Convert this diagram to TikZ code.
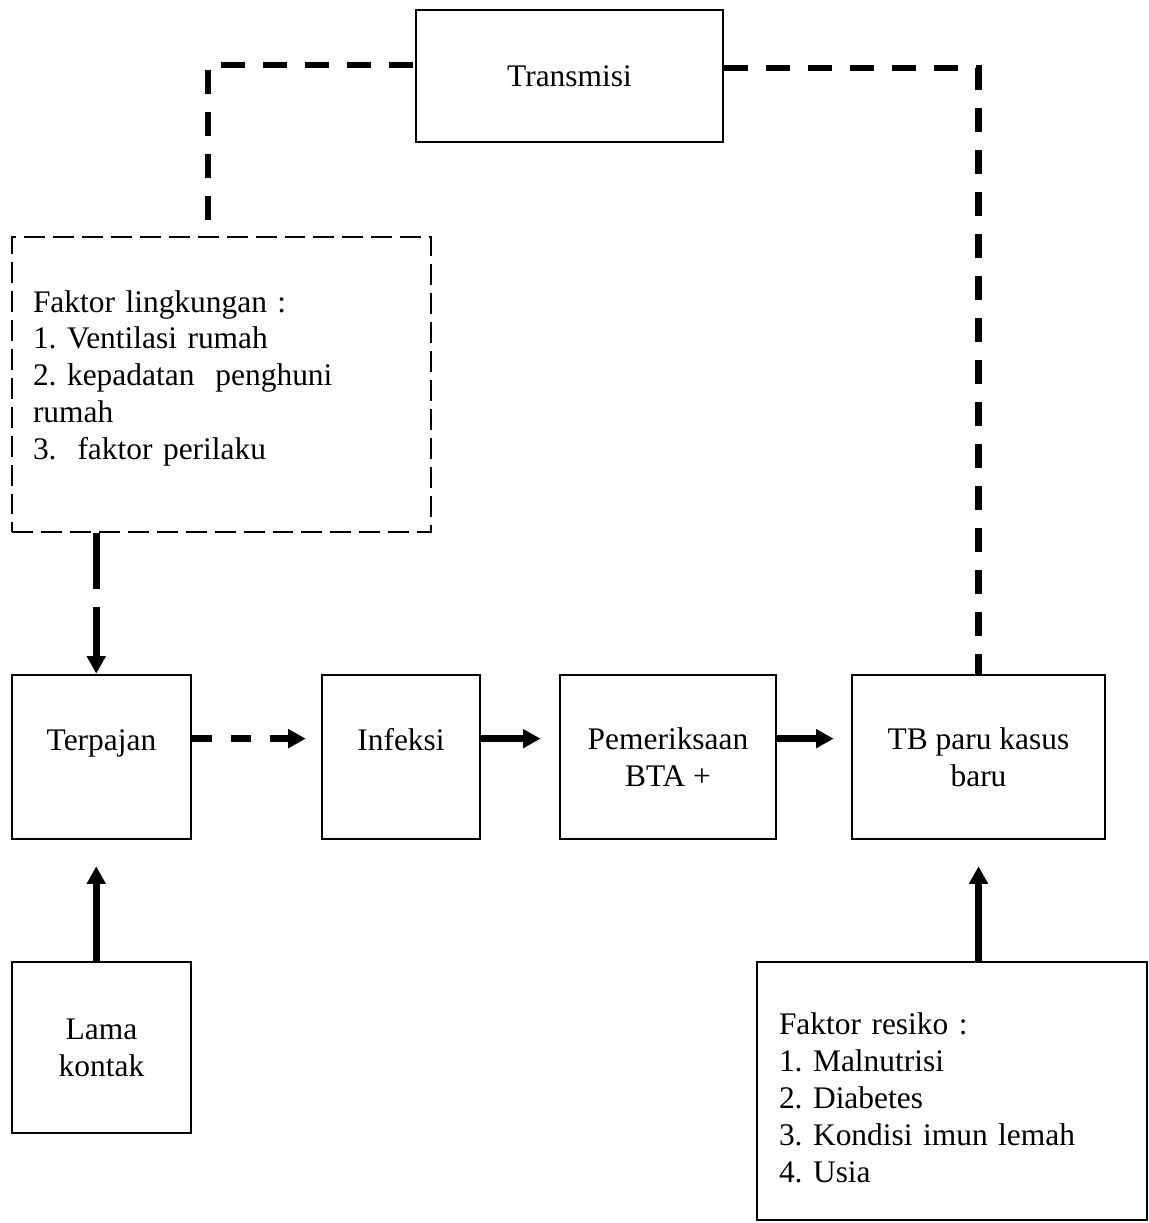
\documentclass[tikz,border=0pt]{standalone}
\usepackage{fontspec}
\setmainfont{Liberation Serif}
\usepackage{tikz}
\usetikzlibrary{arrows.meta, calc}
\newlength{\pxu}
\setlength{\pxu}{0.3817pt}
\frenchspacing

\begin{document}
\begin{tikzpicture}[x=\pxu, y=-\pxu,
    box/.style={draw, line width=1pt, align=center, inner sep=0pt, font=\fontsize{12}{14.1}\selectfont},
    topbox/.style={box, text height=9pt, text depth=13.6pt},
    listbox/.style={box, align=left, inner ysep=0pt},
    link/.style={line width=2.5pt, dash pattern=on 9.16pt off 6.87pt},
    flow/.style={line width=2.5pt, -{Triangle[length=6.7pt, width=6.9pt]}}]
    \useasboundingbox (0,0) rectangle (1149,1223);

    \node[box, minimum width=117.18pt, minimum height=50.38pt] (transmisi) at (569.5,76) {Transmisi};
    \node[listbox, dash pattern=on 8pt off 3.05pt, text width=143.9pt, inner xsep=8.02pt, minimum height=112.6pt,
        text height=0pt, text depth=55.3pt] (lingkungan) at (221.5,384.5)
        {Faktor lingkungan :\\1. Ventilasi rumah\\2. kepadatan~ penghuni\\rumah\\3.~ faktor perilaku};

    \node[topbox, minimum width=68.32pt, minimum height=62.6pt] (terpajan) at (101.5,757) {Terpajan};
    \node[topbox, minimum width=60.31pt, minimum height=62.6pt] (infeksi) at (401,757) {Infeksi};
    \node[box, minimum width=82.45pt, minimum height=62.6pt] (pemeriksaan) at (668,757) {Pemeriksaan\\BTA +};
    \node[box, minimum width=96.57pt, minimum height=62.6pt] (tbparu) at (978.5,757) {TB paru kasus\\baru};

    \node[box, minimum width=68.32pt, minimum height=65.27pt] (lama) at (101.5,1047.5) {Lama\\kontak};
    \node[listbox, text width=132.07pt, inner xsep=8.4pt, minimum height=98.48pt,
        text height=0pt, text depth=42.8pt] (resiko) at (952,1091)
        {Faktor resiko :\\1. Malnutrisi\\2. Diabetes\\3. Kondisi imun lemah\\4. Usia};

    \draw[link, dash phase=9.92pt] ([xshift=-5.15pt]lingkungan.north) |- ([yshift=4.2pt]transmisi.west);
    \draw[link, dash phase=1.53pt] (tbparu.north) |- ([yshift=3pt]transmisi.east);

    \draw[flow, dash pattern=on 21.4pt off 6.87pt] ([xshift=-2pt]terpajan.north |- lingkungan.south) -- ([xshift=-2pt]terpajan.north);
    \draw[flow, dash pattern=on 7.63pt off 7.25pt, shorten >=5.7pt] ([yshift=7pt]terpajan.east) -- ([yshift=7pt]infeksi.west);
    \draw[flow, shorten >=6.9pt] ([yshift=7pt]infeksi.east) -- ([yshift=7pt]pemeriksaan.west);
    \draw[flow, shorten >=6.5pt] ([yshift=7pt]pemeriksaan.east) -- ([yshift=7pt]tbparu.west);

    \draw[flow] ([xshift=-2pt]lama.north) -- ([xshift=-2pt, yshift=-9.9pt]terpajan.south);
    \draw[flow] (tbparu.south |- resiko.north) -- ([yshift=-9.9pt]tbparu.south);
\end{tikzpicture}
\end{document}
